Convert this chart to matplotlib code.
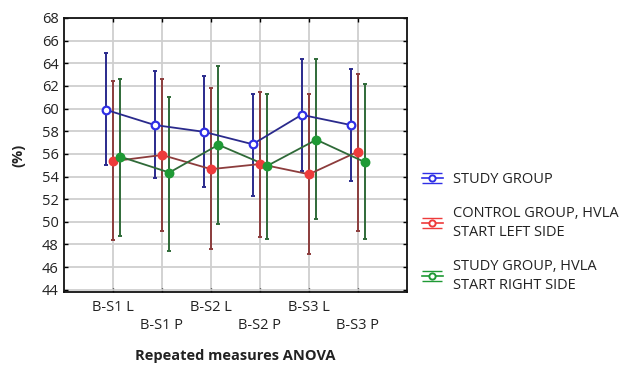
import numpy as np
import matplotlib
matplotlib.use("Agg")
import matplotlib.pyplot as plt
from matplotlib.lines import Line2D
from matplotlib.path import Path

plt.rcParams['font.family'] = ['Open Sans', 'DejaVu Sans']

# conditions on the x axis
conditions = ["B-S1 L", "B-S1 P", "B-S2 L", "B-S2 P", "B-S3 L", "B-S3 P"]

# means and error bar ends (%)
study_mean = [59.9, 58.55, 57.95, 56.85, 59.45, 58.55]
study_low = [55.0, 53.85, 53.05, 52.3, 54.45, 53.6]
study_high = [64.9, 63.35, 62.9, 61.3, 64.4, 63.5]

control_mean = [55.35, 55.9, 54.65, 55.1, 54.2, 56.2]
control_low = [48.4, 49.2, 47.6, 48.65, 47.2, 49.2]
control_high = [62.4, 62.6, 61.8, 61.5, 61.3, 63.05]

right_mean = [55.75, 54.35, 56.8, 54.95, 57.25, 55.25]
right_low = [48.75, 47.45, 49.8, 48.5, 50.25, 48.5]
right_high = [62.6, 61.05, 63.8, 61.3, 64.4, 62.2]

labels = ["STUDY GROUP", "CONTROL GROUP, HVLA\nSTART LEFT SIDE",
          "STUDY GROUP, HVLA\nSTART RIGHT SIDE"]

series = [
    (study_mean, study_low, study_high, -0.15, "#2a2a8c", "#2f2fe6", "none"),
    (control_mean, control_low, control_high, 0.0, "#8c3c3c", "#ee3b3b", "#ee3b3b"),
    (right_mean, right_low, right_high, 0.15, "#2f6a38", "#1f9a35", "#1f9a35"),
]

fig = plt.figure(figsize=(6.38, 3.65), dpi=100)
ax = fig.add_axes([64 / 638, 1 - 292 / 365, 343 / 638, 274 / 365])

x = np.arange(len(conditions))
handles = []
for (mean, low, high, off, bar_c, mk_c, face), lab in zip(series, labels):
    mean = np.array(mean)
    err = [mean - np.array(low), np.array(high) - mean]
    ax.errorbar(x + off, mean, yerr=err, fmt="none", ecolor=bar_c,
                elinewidth=1.4, capsize=1.6, capthick=1.4, zorder=3)
    ax.plot(x + off, mean, color=bar_c, lw=1.3, zorder=4)
    ax.plot(x + off, mean, ls="none", marker="o", ms=5.5, mec=mk_c,
            mfc=face if face != "none" else "white", mew=1.6, zorder=5)
    handles.append((Line2D([], [], color=mk_c, lw=1.2, marker="o", ms=4.5,
                           mec=mk_c, mfc="white", mew=1.4),
                    Line2D([], [], ls="none", color=mk_c, mew=1.0, ms=14,
                           marker=Path([(-1, 0.5), (1, 0.5), (-1, -0.5), (1, -0.5)],
                                       [Path.MOVETO, Path.LINETO, Path.MOVETO, Path.LINETO]))))

ax.set_xlim(-1, 6)
ax.set_ylim(43.8, 68)
ax.set_yticks(np.arange(44, 69, 2))
ax.set_xticks(x)
ax.set_xticklabels([("" if i % 2 == 0 else "\n") + c for i, c in enumerate(conditions)],
                   fontsize=10.5, color="#222222")
ax.tick_params(axis="y", labelsize=10.5, labelcolor="#222222")
ax.tick_params(direction="in", length=3, width=1, top=True, right=True, pad=4)
ax.tick_params(axis="x", pad=6)
ax.grid(True, color="#cfcfcf", lw=1.3)
ax.set_axisbelow(True)
for s in ax.spines.values():
    s.set_linewidth(1.3)
    s.set_color("#111111")

ax.set_xlabel("Repeated measures ANOVA", fontsize=10.5, fontweight="bold",
              color="#222222", labelpad=12)
ax.set_ylabel("(%)", fontsize=10.5, fontweight="bold", color="#222222", labelpad=12)

leg = fig.legend(handles, labels, loc="upper left", bbox_to_anchor=(409 / 638, 1 - 159 / 365),
                 frameon=False, fontsize=10.5, labelspacing=1.3, handlelength=1.4,
                 handletextpad=0.75, labelcolor="#222222")
for t in leg.get_texts():
    t.set_linespacing(1.35)

fig.savefig("out.png", dpi=100)
